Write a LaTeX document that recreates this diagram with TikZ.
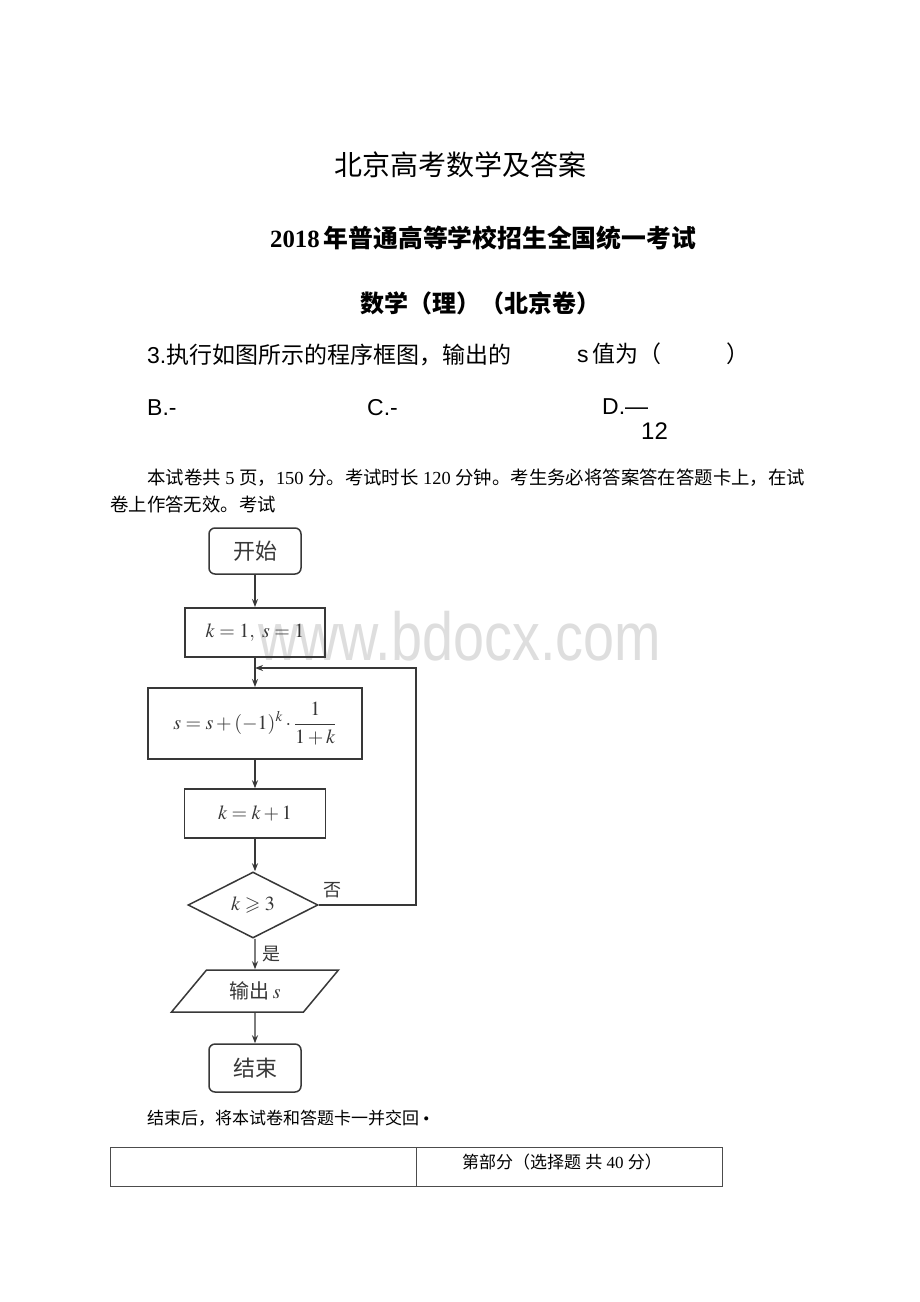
\documentclass[tikz,border=0pt]{standalone}
\usepackage{amssymb}
\usepackage{mathptmx}
\usepackage{fontspec}
\setmainfont{Liberation Serif}
\newfontfamily\cjk{Noto Sans CJK SC}
\newfontfamily\ars{Liberation Sans}
\usetikzlibrary{shapes.geometric,arrows.meta}
\newcommand{\fsz}[1]{\fontsize{#1}{#1}\selectfont}
\definecolor{fc}{HTML}{383838}
\definecolor{wm}{HTML}{DEDEDE}
\tikzset{
  txt/.style={inner sep=0pt, anchor=base west},
  fbox/.style={draw=fc, line width=1.5pt, inner sep=0pt, text=fc},
  arr/.style={draw=fc, line width=1.4pt, -{Stealth[length=8pt,width=6pt]}},
  lab/.style={inner sep=0pt, text=fc, font=\cjk\fsz{18}},
}
\begin{document}
\begin{tikzpicture}[x=1pt,y=-1pt]
\fill[white] (0,0) rectangle (920,1302);
\useasboundingbox (0,0) rectangle (920,1302);

% headings
\node[inner sep=0pt] (t1) at (460,165) {\cjk\fsz{28}北京高考数学及答案};
\node[inner sep=0pt] (t2) at (483,238) {\fsz{24.8}\bfseries 2018\,{\cjk\bfseries 年普通高等学校招生全国统一考试}};
\node[inner sep=0pt] (t3) at (480,303) {\cjk\bfseries\fsz{24}数学（理）（北京卷）};

% question
\node[txt] (q1) at (147,363) {\fsz{23}{\ars 3.}{\cjk 执行如图所示的程序框图，输出的}};
\node[txt] (q2) at (577,362) {\fsz{23}{\ars s}\,{\cjk 值为（}};
\node[txt] (q3) at (726,362) {\cjk\fsz{23}）};
\node[txt] (ob) at (147,415) {\ars\fsz{23}B.-};
\node[txt] (oc) at (367,415) {\ars\fsz{23}C.-};
\node[txt] (od) at (602,414) {\ars\fsz{23}D.—};
\node[txt] (od2) at (641,439) {\ars\fsz{24}12};

% paragraph
\node[txt] (p1) at (147,484) {\fsz{18.4}{\cjk 本试卷共} 5 {\cjk 页，}150 {\cjk 分。考试时长} 120 {\cjk 分钟。考生务必将答案答在答题卡上，在试}};
\node[txt] (p2) at (110,511) {\cjk\fsz{18.4}卷上作答无效。考试};

% watermark
\node[txt, text=wm, xscale=0.82] (wmk) at (258,660) {\ars\fsz{68}www.bdocx.com};

% flowchart
\node[fbox, rounded corners=6pt, minimum width=92pt, minimum height=46pt] (start) at (255,551) {\cjk\fsz{22}开始};
\node[fbox, line width=1.9pt, minimum width=140pt, minimum height=49pt] (init) at (255,632.5) {\fsz{20}$k=1,\ s=1$};
\node[fbox, line width=1.9pt, minimum width=214pt, minimum height=71pt] (upd) at (255,723.5) {\fsz{20}$\displaystyle s=s+(-1)^{k}\cdot\frac{1}{1+k}$};
\node[fbox, minimum width=141pt, minimum height=49pt] (inc) at (255,813.5) {\fsz{20}$k=k+1$};
\node[fbox, diamond, minimum width=130pt, minimum height=66pt] (dec) at (253,905) {\fsz{20}$k\geqslant 3$};
\node[fbox, trapezium, trapezium left angle=45, trapezium right angle=135, trapezium stretches=true, minimum width=168pt, minimum height=42pt] (out) at (255,991) {\fsz{20}{\cjk 输出}\,$s$};
\node[fbox, rounded corners=6pt, minimum width=92pt, minimum height=48pt] (stop) at (255,1068) {\cjk\fsz{22}结束};

\coordinate (loopR) at (416,905);
\coordinate (loopT) at (416,668);
\coordinate (join) at (255,668);

\draw[arr] (start) -- (init);
\draw[arr] (init) -- (upd);
\draw[arr] (upd) -- (inc);
\draw[arr] (inc.south) -- (inc.south |- dec.north);
\draw[arr] (dec.south -| out.north) -- (out);
\draw[arr] (out) -- (stop);
\draw[arr] (dec.east) -- (loopR) -- (loopT) -- (join);

\node[lab, anchor=west] (no) at (323,890) {否};
\node[lab, anchor=west] (yes) at (262,954) {是};

% closing line
\node[txt] (p3) at (147,1124) {\fsz{17}{\cjk 结束后，将本试卷和答题卡一并交回}\ \textbullet};

% table
\node[draw=black!70, line width=0.8pt, minimum width=306pt, minimum height=39pt, inner sep=0pt] (c1) at (263,1166.5) {};
\node[draw=black!70, line width=0.8pt, minimum width=306pt, minimum height=39pt, inner sep=0pt] (c2) at (569,1166.5) {};
\node[txt] (tt) at (462,1168) {\fsz{17}{\cjk 第部分（选择题}\ {\cjk 共}\ 40\ {\cjk 分）}};
\end{tikzpicture}
\end{document}
